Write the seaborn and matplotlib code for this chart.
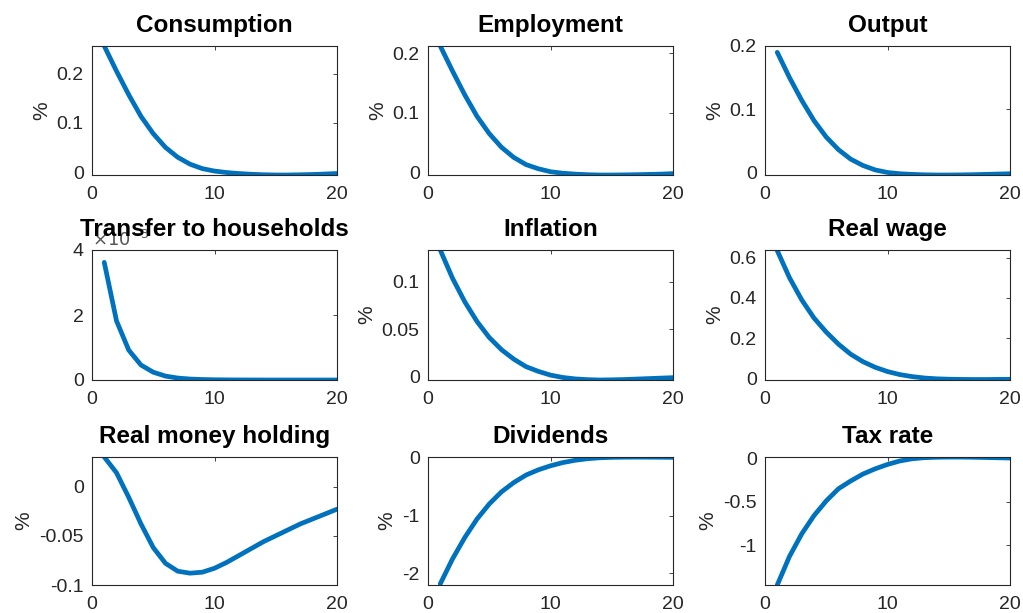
import numpy as np
import pandas as pd
import matplotlib
matplotlib.use("Agg")
import matplotlib.pyplot as plt
import seaborn as sns

# impulse responses, periods 1..20
periods = list(range(1, 21))

consumption = [0.256, 0.205, 0.157, 0.113, 0.078, 0.050, 0.030, 0.016, 0.007, 0.002,
               -0.001, -0.003, -0.0045, -0.0055, -0.006, -0.006, -0.0055, -0.005, -0.004, -0.003]
employment = [0.212, 0.170, 0.130, 0.094, 0.065, 0.042, 0.025, 0.013, 0.006, 0.001,
              -0.0015, -0.003, -0.004, -0.0045, -0.0045, -0.0043, -0.004, -0.0035, -0.003, -0.0022]
output = [0.190, 0.150, 0.114, 0.082, 0.056, 0.036, 0.021, 0.011, 0.004, 0.000,
          -0.002, -0.003, -0.0037, -0.004, -0.004, -0.0038, -0.0035, -0.003, -0.0025, -0.002]
transfer = [3.62e-3, 1.82e-3, 0.92e-3, 0.46e-3, 0.24e-3, 0.12e-3, 0.06e-3, 0.03e-3, 0.015e-3, 0.008e-3,
            0.004e-3, 0.002e-3, 0.001e-3, 0.0, 0.0, 0.0, 0.0, 0.0, 0.0, 0.0]
inflation = [0.134, 0.104, 0.079, 0.058, 0.041, 0.028, 0.018, 0.010, 0.005, 0.001,
             -0.0015, -0.003, -0.0038, -0.0042, -0.004, -0.0037, -0.0032, -0.0027, -0.0022, -0.0017]
real_wage = [0.635, 0.500, 0.390, 0.300, 0.230, 0.170, 0.120, 0.083, 0.055, 0.034,
             0.019, 0.009, 0.002, -0.002, -0.004, -0.005, -0.0055, -0.0055, -0.005, -0.0045]
real_money = [0.030, 0.014, -0.011, -0.038, -0.062, -0.078, -0.086, -0.088, -0.087, -0.083,
              -0.077, -0.070, -0.063, -0.056, -0.050, -0.044, -0.038, -0.033, -0.028, -0.023]
dividends = [-2.18, -1.75, -1.38, -1.06, -0.80, -0.59, -0.43, -0.30, -0.21, -0.14,
             -0.085, -0.045, -0.018, -0.002, 0.006, 0.009, 0.010, 0.009, 0.008, 0.006]
tax_rate = [-1.46, -1.13, -0.87, -0.66, -0.49, -0.35, -0.26, -0.18, -0.12, -0.07,
            -0.03, -0.005, 0.008, 0.013, 0.015, 0.015, 0.013, 0.010, 0.007, 0.004]

titles = ["Consumption", "Employment", "Output",
          "Transfer to households", "Inflation", "Real wage",
          "Real money holding", "Dividends", "Tax rate"]
series = [consumption, employment, output,
          transfer, inflation, real_wage,
          real_money, dividends, tax_rate]
ylims = [(-0.006, 0.256), (-0.0045, 0.212), (-0.004, 0.197),
         (0, 4), (-0.0042, 0.134), (-0.008, 0.638),
         (-0.1, 0.03), (-2.2, 0.012), (-1.46, 0.016)]
yticks = [[0, 0.1, 0.2], [0, 0.1, 0.2], [0, 0.1, 0.2],
          [0, 2, 4], [0, 0.05, 0.1], [0, 0.2, 0.4, 0.6],
          [-0.1, -0.05, 0], [-2, -1, 0], [-1, -0.5, 0]]
transfer_scale = 1e-3

sns.set_theme(style="white")
plt.rcParams['font.family'] = ['Liberation Sans', 'DejaVu Sans']
plt.rcParams['axes.unicode_minus'] = False

fig = plt.figure(figsize=(10.23, 6.13), dpi=100)
W, H = 1023, 613
lefts = [92, 428, 765]
tops = [46, 250, 457]
bottoms = [175, 380, 585]
width = 245
dark = '#262626'

for i, (title, vals) in enumerate(zip(titles, series)):
    r, c = divmod(i, 3)
    ax = fig.add_axes([lefts[c] / W, 1 - bottoms[r] / H, width / W, (bottoms[r] - tops[r]) / H])
    y = np.array(vals)
    if i == 3:
        y = y / transfer_scale
    df = pd.DataFrame({'period': periods, 'value': y})
    sns.lineplot(data=df, x='period', y='value', ax=ax, color='#0072BD', linewidth=3.4)
    ax.set_xlim(0, 20)
    ax.set_ylim(*ylims[i])
    ax.set_xticks([0, 10, 20])
    ax.set_yticks(yticks[i])
    ax.set_yticklabels(['%g' % t for t in yticks[i]])
    ax.set_xlabel('')
    if i == 3:
        ax.set_ylabel('')
        ax.text(0.0, 1.0, r'$\times10^{-3}$', transform=ax.transAxes, fontsize=13,
                color='#555555', ha='left', va='bottom')
    else:
        ax.set_ylabel('%', fontsize=15, color=dark, labelpad=4)
    ax.set_title(title, fontsize=17.5, fontweight='bold', color='black', pad=10)
    ax.tick_params(axis='both', which='both', direction='in', length=3, width=0.6,
                   colors=dark, labelsize=14, top=True, right=True,
                   labeltop=False, labelright=False)
    ax.tick_params(axis='x', pad=8)
    ax.tick_params(axis='y', pad=6)
    for sp in ax.spines.values():
        sp.set_color(dark)
        sp.set_linewidth(0.8)
        sp.set_visible(True)

fig.savefig('out.png', dpi=100)
